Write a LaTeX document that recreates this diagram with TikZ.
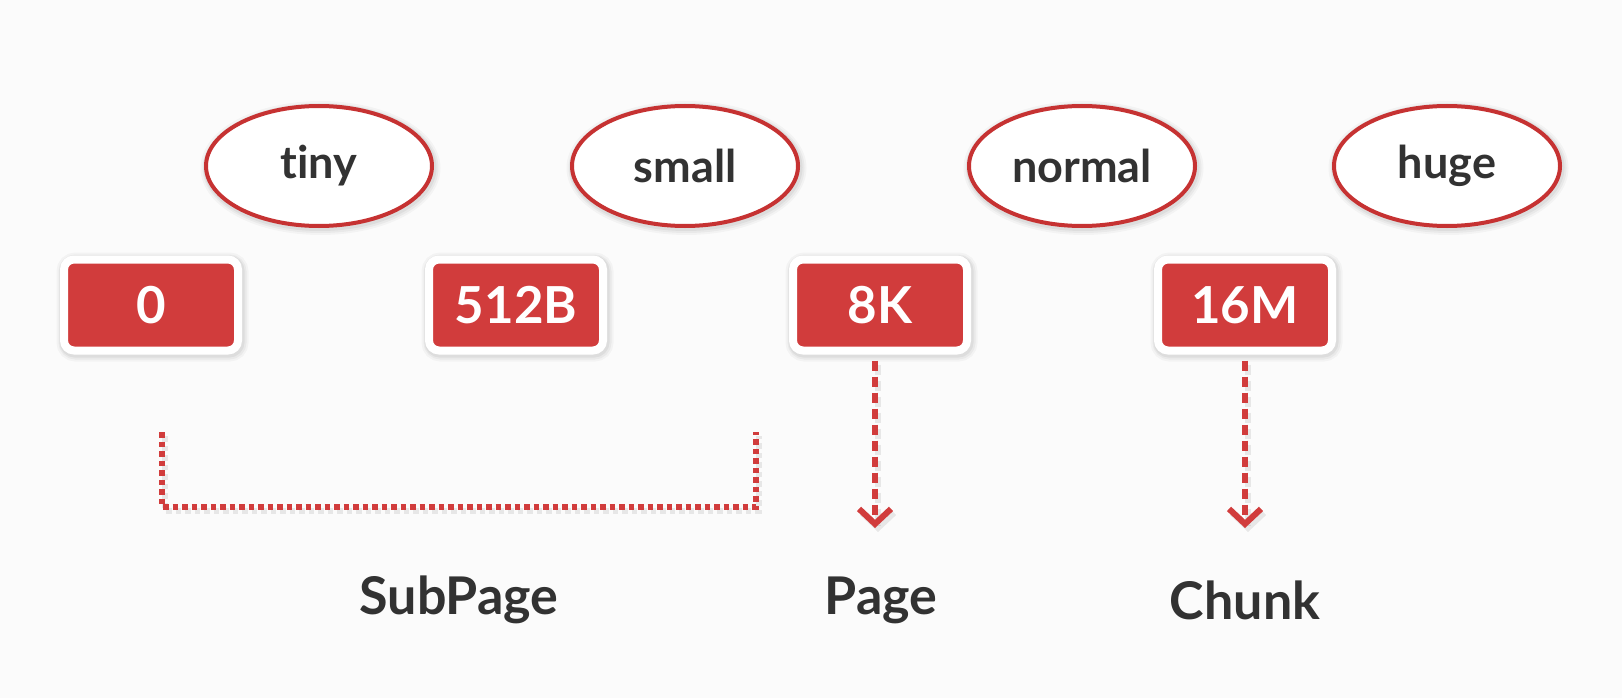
\documentclass[tikz,border=0pt]{standalone}
\usepackage{fontspec}
\setmainfont{Lato}[Ligatures=NoCommon]
\usetikzlibrary{shapes.geometric,arrows.meta}
\definecolor{bgcol}{RGB}{251,251,251}
\definecolor{boxred}{RGB}{209,60,60}
\definecolor{rimred}{RGB}{198,50,50}
\definecolor{inkgray}{RGB}{50,50,50}
\tikzset{
  % soft halo made of widening translucent outlines
  halo/.style={
    preaction={draw=black,opacity=0.03,line width=#1+10pt,transform canvas={xshift=1.5pt,yshift=-2pt}},
    preaction={draw=black,opacity=0.04,line width=#1+6pt,transform canvas={xshift=1.5pt,yshift=-2pt}},
    preaction={draw=black,opacity=0.05,line width=#1+3pt,transform canvas={xshift=1pt,yshift=-1.5pt}}},
  sizeoval/.style={ellipse,draw=rimred,line width=4pt,fill=white,
    minimum width=226pt,minimum height=120pt,inner sep=0pt,halo=4pt,
    text=inkgray,font=\fontsize{45pt}{50pt}\selectfont\bfseries},
  boundbox/.style={rectangle,rounded corners=10pt,draw=white,line width=8pt,
    fill=boxred,minimum width=174pt,minimum height=91pt,inner sep=0pt,halo=8pt,
    text=white,font=\fontsize{51pt}{56pt}\selectfont\bfseries},
  kindlabel/.style={text=inkgray,font=\fontsize{52pt}{58pt}\selectfont\bfseries,inner sep=0pt},
  barbtip/.style={-{Straight Barb[length=15pt,width=32pt,line width=6pt]}},
  dasharrow/.style={draw=boxred,line width=5.5pt,dash pattern=on 10pt off 6pt,barbtip},
  dotrange/.style={draw=boxred,line width=5.5pt,dash pattern=on 5.5pt off 4pt},
  lineshade/.style={draw=black,opacity=0.08,line width=6.5pt}
}
\begin{document}
\begin{tikzpicture}[x=1pt,y=1pt]
  % canvas
  \fill[bgcol] (0,0) rectangle (1622,-698);
  \useasboundingbox (0,0) rectangle (1622,-698);

  % size classes
  \node[sizeoval] (tiny)   at (319,-166)  {tiny};
  \node[sizeoval] (small)  at (685,-166)  {small};
  \node[sizeoval] (normal) at (1082,-166) {normal};
  \node[sizeoval] (huge)   at (1447,-166) {huge};

  % size boundaries
  \node[boundbox] (b0)    at (151,-305)  {0};
  \node[boundbox] (b512)  at (516,-305)  {512B};
  \node[boundbox] (b8k)   at (880,-305)  {8K};
  \node[boundbox] (b16m)  at (1245,-305) {16M};

  % allocation units
  \node[kindlabel] (subpage) at (459,-600)  {SubPage};
  \node[kindlabel] (page)    at (881,-600)  {Page};
  \node[kindlabel] (chunk)   at (1245,-600) {Chunk};

  % SubPage range bracket
  \coordinate (brL) at (162,-432);
  \coordinate (brR) at (756,-432);
  \coordinate (brB) at (459,-507);
  \draw[lineshade,dash pattern=on 5.5pt off 4pt] ([shift={(3,-4)}]brL) |- ([shift={(3,-4)}]brB) -| ([shift={(3,-4)}]brR);
  \draw[dotrange] (brL) |- (brB) -| (brR);

  % Page and Chunk arrows
  \coordinate (pgtip) at (875,-528);
  \coordinate (chtip) at (1245,-528);
  \draw[lineshade,dash pattern=on 10pt off 6pt,barbtip] ([shift={(3,-10)}]b8k.south -| pgtip) -- ([shift={(3,-4)}]pgtip);
  \draw[lineshade,dash pattern=on 10pt off 6pt,barbtip] ([shift={(3,-10)}]b16m.south -| chtip) -- ([shift={(3,-4)}]chtip);
  \draw[dasharrow] ([yshift=-6pt]b8k.south -| pgtip) -- (pgtip);
  \draw[dasharrow] ([yshift=-6pt]b16m.south -| chtip) -- (chtip);
\end{tikzpicture}
\end{document}
